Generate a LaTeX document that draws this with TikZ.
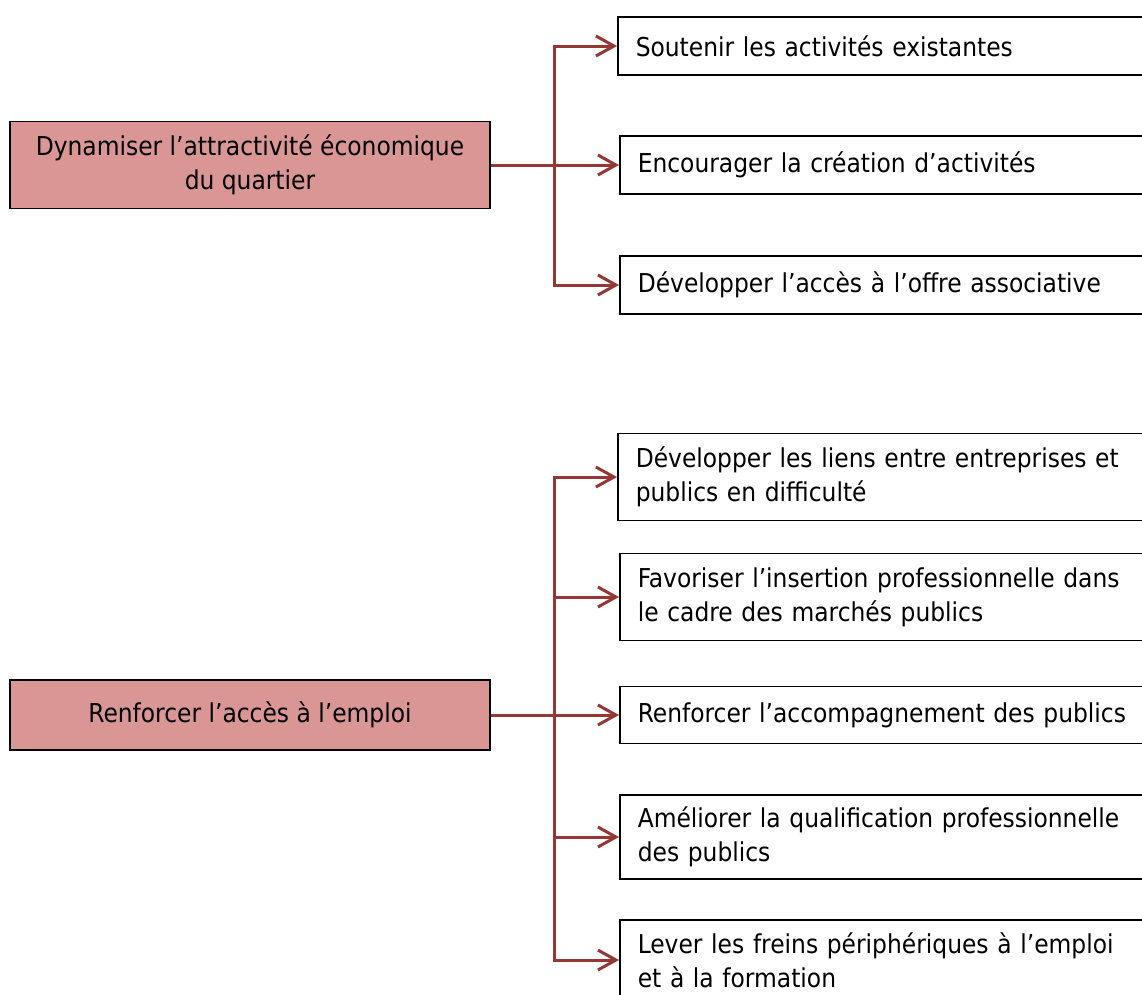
\documentclass[tikz,border=0pt]{standalone}
\usepackage{fontspec}
\setmainfont{DejaVu Sans Condensed}
\usepackage{tikz}
\usetikzlibrary{arrows.meta}
\definecolor{goalpink}{HTML}{D99694}
\definecolor{linkred}{HTML}{953735}
\tikzset{ goal_box/.style = {rectangle, draw, line width=1.5pt, fill=goalpink, align=center, minimum width=480pt, inner sep=0pt, font=\fontsize{26}{34}\selectfont} }
\tikzset{ action_box/.style = {rectangle, draw, line width=1.5pt, fill=white, anchor=west, align=left, text width=520pt, inner xsep=18pt, inner ysep=0pt, font=\fontsize{26}{34}\selectfont} }
\tikzset{ branch/.style = {linkred, line width=3pt, -{Straight Barb[length=18pt, width=20pt, line width=3pt]}} }
\tikzset{ stem/.style = {linkred, line width=3pt} }

\begin{document}
\begin{tikzpicture}[x=1pt, y=-1pt]
                \useasboundingbox (0, 0) rectangle (1142, 994);
                % first objective
                \node [goal_box, minimum height=87pt] (dyn) at (250, 165) {Dynamiser l’attractivité économique\\du quartier};
                \node [action_box, minimum height=58pt] (sout) at (617, 46) {Soutenir les activités existantes};
                \node [action_box, minimum height=58pt] (enc) at (619, 165) {Encourager la création d’activités};
                \node [action_box, minimum height=58pt] (asso) at (619, 285) {Développer l’accès à l’offre associative};
                \coordinate (b1) at (554, 165);
                \draw[stem] (dyn.east) -- (b1);
                \draw[branch] (b1) |- (sout.west);
                \draw[branch] (b1) -- (enc.west);
                \draw[branch] (b1) |- (asso.west);
                % second objective
                \node [goal_box, minimum height=70pt] (emp) at (250, 715) {Renforcer l’accès à l’emploi};
                \node [action_box, minimum height=87pt] (liens) at (617, 477) {Développer les liens entre entreprises et\\publics en difficulté};
                \node [action_box, minimum height=87pt] (ins) at (619, 597) {Favoriser l’insertion professionnelle dans\\le cadre des marchés publics};
                \node [action_box, minimum height=57pt] (acc) at (619, 715) {Renforcer l’accompagnement des publics};
                \node [action_box, minimum height=84pt] (qual) at (619, 837) {Améliorer la qualification professionnelle\\des publics};
                \node [action_box, minimum height=80pt] (frein) at (619, 960) {Lever les freins périphériques à l’emploi\\et à la formation};
                \coordinate (b2) at (554, 715);
                \draw[stem] (emp.east) -- (b2);
                \draw[branch] (b2) |- (liens.west);
                \draw[branch] (b2) |- (ins.west);
                \draw[branch] (b2) -- (acc.west);
                \draw[branch] (b2) |- (qual.west);
                \draw[branch] (b2) |- (frein.west);
        \end{tikzpicture}
\end{document}
